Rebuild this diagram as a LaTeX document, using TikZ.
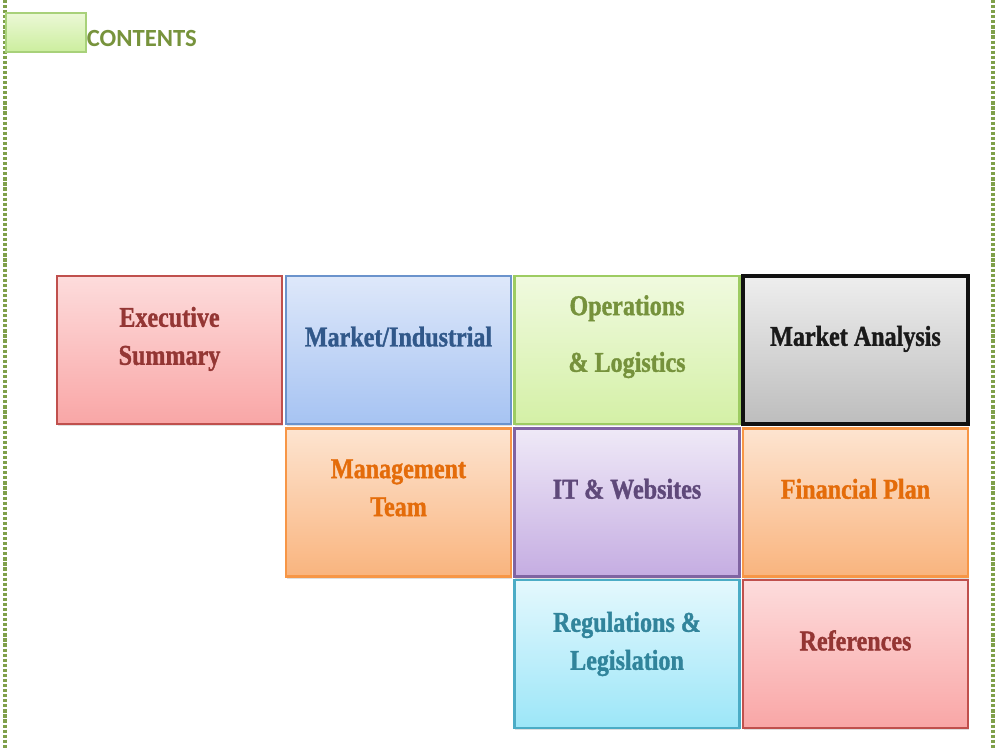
\documentclass[tikz,border=0pt]{standalone}
\usepackage{fontspec}
\usetikzlibrary{shadows}
\newfontfamily\boxfont[FakeStretch=0.84,FakeBold=1.2]{Liberation Serif}
\newfontfamily\headfont{Carlito}
\definecolor{exB}{HTML}{C0504D}\definecolor{exT}{HTML}{943634}
\definecolor{exTop}{HTML}{FDDCDC}\definecolor{exBot}{HTML}{F9A6A6}
\definecolor{miB}{HTML}{6B93CC}\definecolor{miT}{HTML}{31588A}
\definecolor{miTop}{HTML}{DEE8FA}\definecolor{miBot}{HTML}{A6C3F2}
\definecolor{opB}{HTML}{9DCC62}\definecolor{opT}{HTML}{76923C}
\definecolor{opTop}{HTML}{F0FADF}\definecolor{opBot}{HTML}{D4F0A6}
\definecolor{maB}{HTML}{111111}\definecolor{maT}{HTML}{1A1A1A}
\definecolor{maTop}{HTML}{EEEEEE}\definecolor{maBot}{HTML}{BDBDBD}
\definecolor{mgB}{HTML}{F79646}\definecolor{mgT}{HTML}{E46C0A}
\definecolor{mgTop}{HTML}{FDE4D0}\definecolor{mgBot}{HTML}{F9B47E}
\definecolor{itB}{HTML}{8064A2}\definecolor{itT}{HTML}{5F497A}
\definecolor{itTop}{HTML}{EFE9F7}\definecolor{itBot}{HTML}{C5ADE2}
\definecolor{rgB}{HTML}{4BACC6}\definecolor{rgT}{HTML}{31849B}
\definecolor{rgTop}{HTML}{E4F8FD}\definecolor{rgBot}{HTML}{9CE6F8}
\definecolor{ctB}{HTML}{A8D17A}\definecolor{ctT}{HTML}{77933C}
\definecolor{ctTop}{HTML}{EBF8D6}\definecolor{ctBot}{HTML}{CCEE9E}
\definecolor{rope}{HTML}{7FA04A}
\tikzset{
  tile/.style={rectangle, minimum width=168.75pt, minimum height=111pt, line width=2pt,
    drop shadow={shadow xshift=0.6pt, shadow yshift=-1.6pt, opacity=0.25}},
  tiletext/.style={align=center, font=\boxfont\bfseries\fontsize{21.5}{28.5}\selectfont, inner sep=0pt},
  ropeline/.style={rope, line width=3pt, dash pattern=on 2.4pt off 1.4pt},
}
\begin{document}
\begin{tikzpicture}[x=0.75pt,y=-0.75pt]
\useasboundingbox (0,0) rectangle (1000,750);
\fill[white] (0,0) rectangle (1000,750);
% side rope lines
\coordinate (lt) at (5,0); \coordinate (lb) at (5,750);
\coordinate (rt) at (993,0); \coordinate (rb) at (993,750);
\draw[ropeline] (lt) -- (lb);
\draw[ropeline] (rt) -- (rb);
% header
\node[rectangle, draw=ctB, line width=1.2pt, top color=ctTop, bottom color=ctBot,
  minimum width=60pt, minimum height=29pt, inner sep=0pt,
  drop shadow={shadow xshift=0.5pt, shadow yshift=-1pt, opacity=0.2}] (hbox) at (46,32.5) {};
\node[anchor=west, inner sep=0pt, text=ctT, font=\headfont\bfseries\fontsize{18.5}{20}\selectfont] (htext) at (86.5,38) {CONTENTS};
% tiles
\node[tile, draw=exB, top color=exTop, bottom color=exBot] (exec) at (169.5,350) {};
\node[tile, draw=miB, top color=miTop, bottom color=miBot] (mind) at (398.5,350) {};
\node[tile, draw=opB, top color=opTop, bottom color=opBot] (ops) at (627,350) {};
\node[tile, draw=mgB, top color=mgTop, bottom color=mgBot] (mgmt) at (398.5,502.5) {};
\node[tile, draw=itB, top color=itTop, bottom color=itBot] (itw) at (627,502.5) {};
\node[tile, draw=mgB, top color=mgTop, bottom color=mgBot] (fin) at (855.5,502.5) {};
\node[tile, draw=rgB, top color=rgTop, bottom color=rgBot] (reg) at (627,654) {};
\node[tile, draw=exB, top color=exTop, bottom color=exBot] (refs) at (855.5,654) {};
\node[tile, draw=maB, line width=2.3pt, top color=maTop, bottom color=maBot] (mana) at (855.5,350) {};
% texts
\node[tiletext, text=exT] (execT) at ([yshift=8.3pt]exec.center) {Executive\\Summary};
\node[tiletext, text=miT] (mindT) at ([yshift=10pt]mind.center) {Market/Industrial};
\node[tiletext, text=opT] (opsT) at ([yshift=10pt]ops.center) {Operations\\[14pt]\&{} Logistics};
\node[tiletext, text=maT] (manaT) at ([yshift=8.3pt]mana.center) {Market Analysis};
\node[tiletext, text=mgT] (mgmtT) at ([yshift=11pt]mgmt.center) {Management\\Team};
\node[tiletext, text=itT] (itwT) at ([yshift=10.2pt]itw.center) {IT \&{} Websites};
\node[tiletext, text=mgT] (finT) at ([yshift=10.2pt]fin.center) {Financial Plan};
\node[tiletext, text=rgT] (regT) at ([yshift=7.5pt]reg.center) {Regulations \&\\Legislation};
\node[tiletext, text=exT] (refsT) at ([yshift=10.2pt]refs.center) {References};
\end{tikzpicture}
\end{document}
